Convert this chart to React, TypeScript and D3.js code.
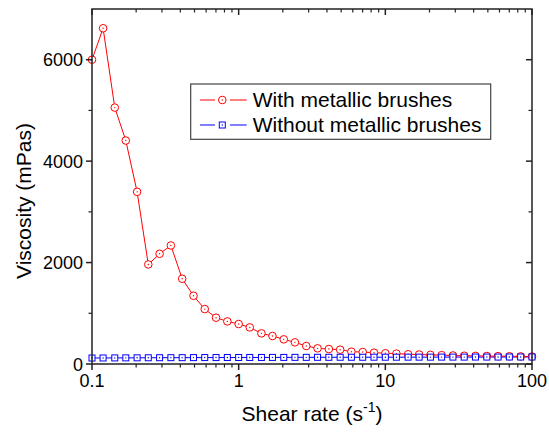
import React from "react";
import * as d3 from "d3";

const shearRates = [
  0.1, 0.119, 0.143, 0.17, 0.203, 0.242, 0.289, 0.345, 0.412, 0.492, 0.587, 0.701, 0.837,
  1, 1.19, 1.43, 1.7, 2.03, 2.42, 2.89, 3.45, 4.12, 4.92, 5.87, 7.01, 8.37,
  10, 11.9, 14.3, 17.0, 20.3, 24.2, 28.9, 34.5, 41.2, 49.2, 58.7, 70.1, 83.7, 100,
];
const withBrushes = [
  6000, 6620, 5056, 4406, 3395, 1963, 2173, 2337, 1681, 1346, 1083, 913, 840,
  788, 722, 604, 552, 486, 427, 355, 309, 295, 282, 243, 236, 223,
  212, 205, 192, 187, 180, 174, 168, 163, 160, 157, 155, 152, 150, 148,
];
const withoutBrushes = [
  118, 119, 120, 121, 122, 123, 124, 125, 125, 126, 127, 127, 128,
  128, 129, 129, 130, 130, 131, 131, 132, 132, 133, 133, 133, 134,
  134, 134, 135, 135, 135, 136, 136, 136, 137, 137, 137, 138, 138, 138,
];
const xTicks = [0.1, 1, 10, 100];
const xTickLabels = ["0.1", "1", "10", "100"];
const yTicks = [0, 2000, 4000, 6000];
const yMinorTicks = [1000, 3000, 5000];
const seriesNames = ["With metallic brushes", "Without metallic brushes"];

const W = 549;
const H = 432;
const M = { left: 92, right: 532, top: 9, bottom: 364 };
const FONT = "'Liberation Sans', Arial, sans-serif";
const RED = "#ff0000";
const BLUE = "#0000ff";
const AX = "#222";

export default function App() {
  const x = d3.scaleLog().domain([0.1, 100]).range([M.left, M.right]);
  const y = d3.scaleLinear().domain([0, 7000]).range([M.bottom, M.top]);

  const minorX: number[] = [];
  [0.1, 1, 10].forEach((d) => {
    for (let k = 2; k <= 9; k++) minorX.push(d * k);
  });

  const line = d3
    .line<number>()
    .x((_, i) => x(shearRates[i]))
    .y((v) => y(v));

  const maj = 6;
  const min = 3.5;

  return (
    <svg width={W} height={H} style={{ position: "absolute", left: 0, top: 0, background: "#fff" }}>
      <rect x={0} y={0} width={W} height={H} fill="#fff" />
      {/* series */}
      <path d={line(withoutBrushes) || ""} fill="none" stroke={BLUE} strokeWidth={1} />
      <path d={line(withBrushes) || ""} fill="none" stroke={RED} strokeWidth={1} />
      {withBrushes.map((v, i) => (
        <g key={"r" + i}>
          <circle cx={x(shearRates[i])} cy={y(v)} r={3.8} fill="#fff" stroke={RED} strokeWidth={1} />
          <circle cx={x(shearRates[i])} cy={y(v)} r={0.7} fill={RED} />
        </g>
      ))}
      {withoutBrushes.map((v, i) => (
        <g key={"b" + i}>
          <rect x={x(shearRates[i]) - 3} y={y(v) - 3} width={6} height={6} fill="#fff" stroke={BLUE} strokeWidth={1} />
          <circle cx={x(shearRates[i])} cy={y(v)} r={0.7} fill={BLUE} />
        </g>
      ))}

      {/* frame */}
      <rect x={M.left} y={M.top} width={M.right - M.left} height={M.bottom - M.top} fill="none" stroke={AX} strokeWidth={1.5} />

      {/* x ticks */}
      {xTicks.map((t, i) => (
        <g key={"xt" + i}>
          <line x1={x(t)} x2={x(t)} y1={M.bottom} y2={M.bottom + maj} stroke={AX} strokeWidth={1.5} />
          <line x1={x(t)} x2={x(t)} y1={M.top} y2={M.top + maj} stroke={AX} strokeWidth={1.5} />
          <text x={x(t)} y={387} textAnchor="middle" fontFamily={FONT} fontSize={18} fill="#000">
            {xTickLabels[i]}
          </text>
        </g>
      ))}
      {minorX.map((t, i) => (
        <g key={"xm" + i}>
          <line x1={x(t)} x2={x(t)} y1={M.bottom} y2={M.bottom + min} stroke={AX} strokeWidth={1.2} />
          <line x1={x(t)} x2={x(t)} y1={M.top} y2={M.top + min} stroke={AX} strokeWidth={1.2} />
        </g>
      ))}

      {/* y ticks */}
      {yTicks.map((t, i) => (
        <g key={"yt" + i}>
          <line x1={M.left - maj} x2={M.left} y1={y(t)} y2={y(t)} stroke={AX} strokeWidth={1.5} />
          <line x1={M.right - maj} x2={M.right} y1={y(t)} y2={y(t)} stroke={AX} strokeWidth={1.5} />
          <text x={M.left - 9} y={y(t) + 6.5} textAnchor="end" fontFamily={FONT} fontSize={18} fill="#000">
            {String(t)}
          </text>
        </g>
      ))}
      {yMinorTicks.map((t, i) => (
        <g key={"ym" + i}>
          <line x1={M.left - min} x2={M.left} y1={y(t)} y2={y(t)} stroke={AX} strokeWidth={1.2} />
          <line x1={M.right - min} x2={M.right} y1={y(t)} y2={y(t)} stroke={AX} strokeWidth={1.2} />
        </g>
      ))}

      {/* axis titles */}
      <text x={312} y={421} textAnchor="middle" fontFamily={FONT} fontSize={21} fill="#000">
        Shear rate (s
        <tspan fontSize={14} dy={-9}>-1</tspan>
        <tspan dy={9}>)</tspan>
      </text>
      <text
        transform={`translate(31,201) rotate(-90)`}
        textAnchor="middle"
        fontFamily={FONT}
        fontSize={21}
        fill="#000"
      >
        Viscosity (mPas)
      </text>

      {/* legend */}
      <rect x={190.7} y={84} width={300} height={55.3} fill="#fff" stroke="#444" strokeWidth={1.2} />
      {seriesNames.map((name, i) => {
        const cy = 100 + i * 25;
        const col = i === 0 ? RED : BLUE;
        return (
          <g key={"lg" + i}>
            <line x1={200} x2={215} y1={cy} y2={cy} stroke={col} strokeWidth={1} />
            <line x1={230} x2={246.7} y1={cy} y2={cy} stroke={col} strokeWidth={1} />
            {i === 0 ? (
              <circle cx={222.3} cy={cy} r={3.8} fill="#fff" stroke={col} strokeWidth={1} />
            ) : (
              <rect x={219.3} y={cy - 3} width={6} height={6} fill="#fff" stroke={col} strokeWidth={1} />
            )}
            <circle cx={222.3} cy={cy} r={0.7} fill={col} />
            <text x={252.7} y={cy + 7.3} fontFamily={FONT} fontSize={21} fill="#000">
              {name}
            </text>
          </g>
        );
      })}
    </svg>
  );
}
